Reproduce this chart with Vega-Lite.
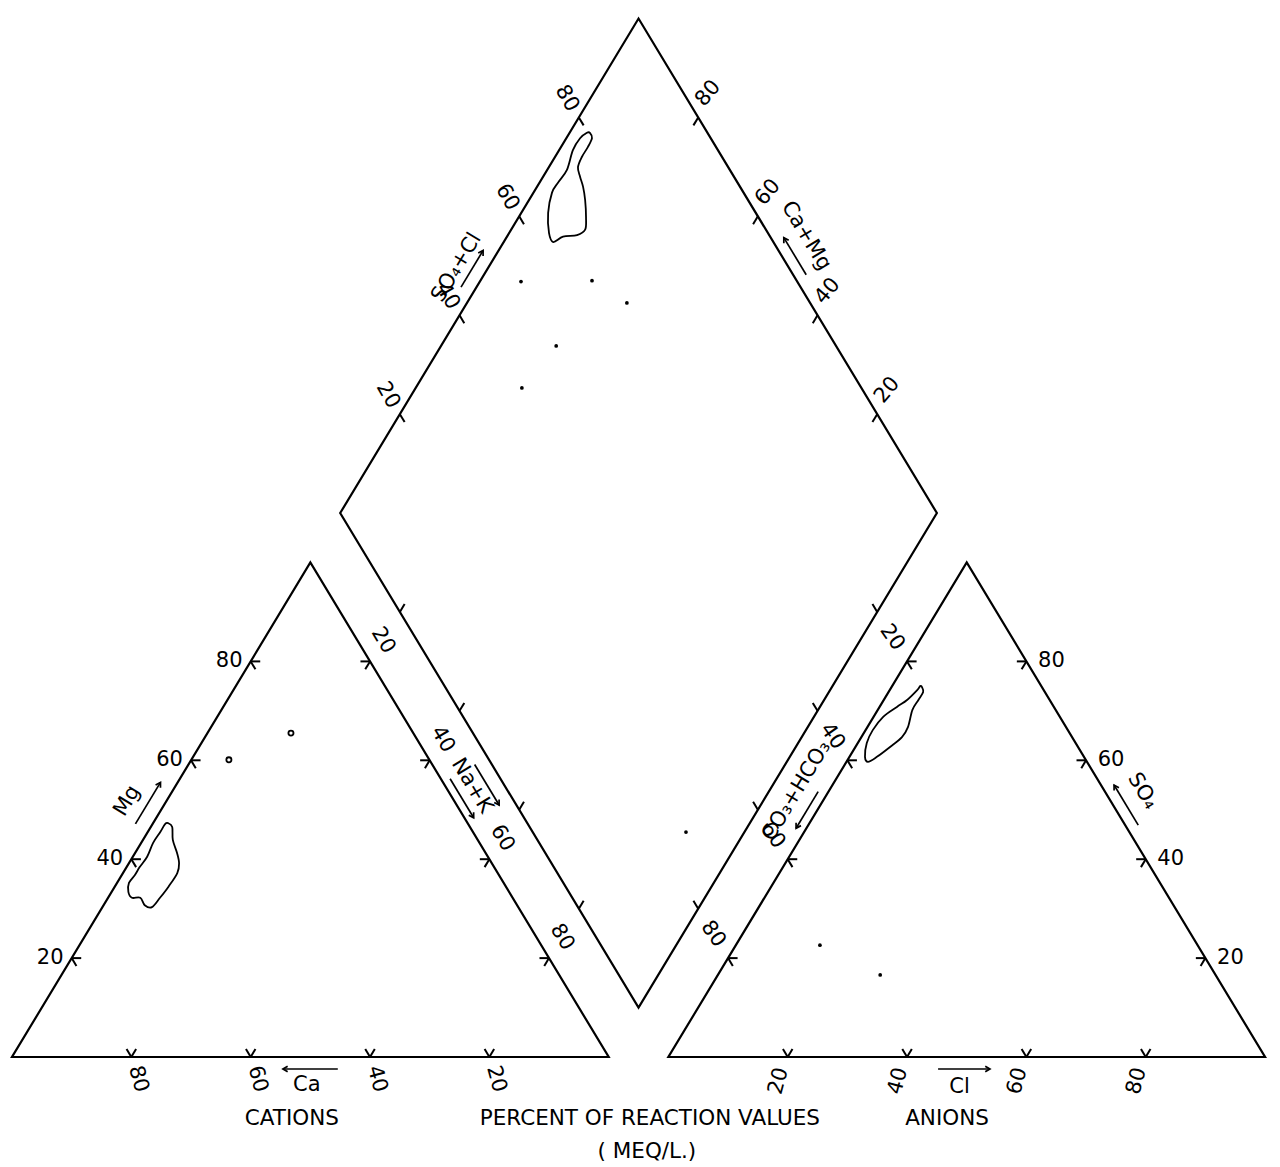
{
  "$schema": "https://vega.github.io/schema/vega-lite/v6.json",
  "description": "Piper trilinear diagram: cation and anion triangles with the central diamond, sample fields and points.",
  "width": 1280,
  "height": 1167,
  "padding": 0,
  "autosize": {"type": "none"},
  "background": "white",
  "config": {"view": {"stroke": null}, "font": "DejaVu Sans"},
  "data": {
    "values": [
      {"kind": "outline", "id": "cations", "plot": "cations", "i": 0, "Mg": 0, "NaK": 0},
      {"kind": "outline", "id": "cations", "plot": "cations", "i": 1, "Mg": 0, "NaK": 100},
      {"kind": "outline", "id": "cations", "plot": "cations", "i": 2, "Mg": 100, "NaK": 0},
      {"kind": "outline", "id": "anions", "plot": "anions", "i": 0, "SO4": 0, "Cl": 0},
      {"kind": "outline", "id": "anions", "plot": "anions", "i": 1, "SO4": 0, "Cl": 100},
      {"kind": "outline", "id": "anions", "plot": "anions", "i": 2, "SO4": 100, "Cl": 0},
      {"kind": "outline", "id": "diamond", "plot": "diamond", "i": 0, "NaK": 0, "SO4Cl": 0},
      {"kind": "outline", "id": "diamond", "plot": "diamond", "i": 1, "NaK": 0, "SO4Cl": 100},
      {"kind": "outline", "id": "diamond", "plot": "diamond", "i": 2, "NaK": 100, "SO4Cl": 100},
      {"kind": "outline", "id": "diamond", "plot": "diamond", "i": 3, "NaK": 100, "SO4Cl": 0},

      {"kind": "field", "id": "field-cations", "plot": "cations", "i": 0, "Mg": 47.3, "NaK": 2.5},
      {"kind": "field", "id": "field-cations", "plot": "cations", "i": 1, "Mg": 46.5, "NaK": 3.6},
      {"kind": "field", "id": "field-cations", "plot": "cations", "i": 2, "Mg": 43.9, "NaK": 5.0},
      {"kind": "field", "id": "field-cations", "plot": "cations", "i": 3, "Mg": 41.3, "NaK": 7.0},
      {"kind": "field", "id": "field-cations", "plot": "cations", "i": 4, "Mg": 39.2, "NaK": 8.4},
      {"kind": "field", "id": "field-cations", "plot": "cations", "i": 5, "Mg": 37.2, "NaK": 9.1},
      {"kind": "field", "id": "field-cations", "plot": "cations", "i": 6, "Mg": 34.4, "NaK": 9.0},
      {"kind": "field", "id": "field-cations", "plot": "cations", "i": 7, "Mg": 32.2, "NaK": 8.7},
      {"kind": "field", "id": "field-cations", "plot": "cations", "i": 8, "Mg": 30.3, "NaK": 8.3},
      {"kind": "field", "id": "field-cations", "plot": "cations", "i": 9, "Mg": 30.7, "NaK": 6.9},
      {"kind": "field", "id": "field-cations", "plot": "cations", "i": 10, "Mg": 32.2, "NaK": 5.4},
      {"kind": "field", "id": "field-cations", "plot": "cations", "i": 11, "Mg": 32.2, "NaK": 4.0},
      {"kind": "field", "id": "field-cations", "plot": "cations", "i": 12, "Mg": 33.4, "NaK": 2.8},
      {"kind": "field", "id": "field-cations", "plot": "cations", "i": 13, "Mg": 35.2, "NaK": 2.0},
      {"kind": "field", "id": "field-cations", "plot": "cations", "i": 14, "Mg": 36.8, "NaK": 2.2},
      {"kind": "field", "id": "field-cations", "plot": "cations", "i": 15, "Mg": 38.4, "NaK": 2.2},
      {"kind": "field", "id": "field-cations", "plot": "cations", "i": 16, "Mg": 40.5, "NaK": 2.4},
      {"kind": "field", "id": "field-cations", "plot": "cations", "i": 17, "Mg": 43.3, "NaK": 2.0},
      {"kind": "field", "id": "field-cations", "plot": "cations", "i": 18, "Mg": 45.5, "NaK": 2.1},
      {"kind": "field", "id": "field-cations", "plot": "cations", "i": 19, "Mg": 47.1, "NaK": 2.1},

      {"kind": "field", "id": "field-anions", "plot": "anions", "i": 0, "SO4": 74.8, "Cl": 5.1},
      {"kind": "field", "id": "field-anions", "plot": "anions", "i": 1, "SO4": 73.8, "Cl": 5.8},
      {"kind": "field", "id": "field-anions", "plot": "anions", "i": 2, "SO4": 72.2, "Cl": 5.8},
      {"kind": "field", "id": "field-anions", "plot": "anions", "i": 3, "SO4": 70.2, "Cl": 5.8},
      {"kind": "field", "id": "field-anions", "plot": "anions", "i": 4, "SO4": 66.7, "Cl": 6.8},
      {"kind": "field", "id": "field-anions", "plot": "anions", "i": 5, "SO4": 64.7, "Cl": 6.8},
      {"kind": "field", "id": "field-anions", "plot": "anions", "i": 6, "SO4": 62.7, "Cl": 5.8},
      {"kind": "field", "id": "field-anions", "plot": "anions", "i": 7, "SO4": 60.7, "Cl": 4.6},
      {"kind": "field", "id": "field-anions", "plot": "anions", "i": 8, "SO4": 59.7, "Cl": 3.6},
      {"kind": "field", "id": "field-anions", "plot": "anions", "i": 9, "SO4": 60.7, "Cl": 2.6},
      {"kind": "field", "id": "field-anions", "plot": "anions", "i": 10, "SO4": 63.5, "Cl": 1.5},
      {"kind": "field", "id": "field-anions", "plot": "anions", "i": 11, "SO4": 66.1, "Cl": 1.2},
      {"kind": "field", "id": "field-anions", "plot": "anions", "i": 12, "SO4": 68.8, "Cl": 1.6},
      {"kind": "field", "id": "field-anions", "plot": "anions", "i": 13, "SO4": 70.8, "Cl": 2.9},
      {"kind": "field", "id": "field-anions", "plot": "anions", "i": 14, "SO4": 72.2, "Cl": 3.9},
      {"kind": "field", "id": "field-anions", "plot": "anions", "i": 15, "SO4": 74.2, "Cl": 4.6},
      {"kind": "field", "id": "field-anions", "plot": "anions", "i": 16, "SO4": 75.0, "Cl": 4.7},

      {"kind": "field", "id": "field-diamond", "plot": "diamond", "i": 0, "NaK": 3.4, "SO4Cl": 80.3},
      {"kind": "field", "id": "field-diamond", "plot": "diamond", "i": 1, "NaK": 4.3, "SO4Cl": 80.1},
      {"kind": "field", "id": "field-diamond", "plot": "diamond", "i": 2, "NaK": 4.5, "SO4Cl": 78.5},
      {"kind": "field", "id": "field-diamond", "plot": "diamond", "i": 3, "NaK": 4.5, "SO4Cl": 76.5},
      {"kind": "field", "id": "field-diamond", "plot": "diamond", "i": 4, "NaK": 4.9, "SO4Cl": 74.8},
      {"kind": "field", "id": "field-diamond", "plot": "diamond", "i": 5, "NaK": 6.2, "SO4Cl": 74.2},
      {"kind": "field", "id": "field-diamond", "plot": "diamond", "i": 6, "NaK": 7.7, "SO4Cl": 73.7},
      {"kind": "field", "id": "field-diamond", "plot": "diamond", "i": 7, "NaK": 9.4, "SO4Cl": 72.7},
      {"kind": "field", "id": "field-diamond", "plot": "diamond", "i": 8, "NaK": 11.3, "SO4Cl": 71.1},
      {"kind": "field", "id": "field-diamond", "plot": "diamond", "i": 9, "NaK": 12.4, "SO4Cl": 69.7},
      {"kind": "field", "id": "field-diamond", "plot": "diamond", "i": 10, "NaK": 11.6, "SO4Cl": 67.8},
      {"kind": "field", "id": "field-diamond", "plot": "diamond", "i": 11, "NaK": 9.4, "SO4Cl": 65.3},
      {"kind": "field", "id": "field-diamond", "plot": "diamond", "i": 12, "NaK": 8.3, "SO4Cl": 63.1},
      {"kind": "field", "id": "field-diamond", "plot": "diamond", "i": 13, "NaK": 6.7, "SO4Cl": 63.3},
      {"kind": "field", "id": "field-diamond", "plot": "diamond", "i": 14, "NaK": 4.5, "SO4Cl": 65.2},
      {"kind": "field", "id": "field-diamond", "plot": "diamond", "i": 15, "NaK": 3.1, "SO4Cl": 67.9},
      {"kind": "field", "id": "field-diamond", "plot": "diamond", "i": 16, "NaK": 3.1, "SO4Cl": 69.9},
      {"kind": "field", "id": "field-diamond", "plot": "diamond", "i": 17, "NaK": 3.3, "SO4Cl": 72.7},
      {"kind": "field", "id": "field-diamond", "plot": "diamond", "i": 18, "NaK": 2.3, "SO4Cl": 75.7},
      {"kind": "field", "id": "field-diamond", "plot": "diamond", "i": 19, "NaK": 2.3, "SO4Cl": 78.1},
      {"kind": "field", "id": "field-diamond", "plot": "diamond", "i": 20, "NaK": 2.9, "SO4Cl": 79.8},

      {"kind": "sample", "plot": "diamond", "NaK": 6.9, "SO4Cl": 53.7},
      {"kind": "sample", "plot": "diamond", "NaK": 18.7, "SO4Cl": 65.7},
      {"kind": "sample", "plot": "diamond", "NaK": 26.8, "SO4Cl": 69.3},
      {"kind": "sample", "plot": "diamond", "NaK": 19.3, "SO4Cl": 53.1},
      {"kind": "sample", "plot": "diamond", "NaK": 17.8, "SO4Cl": 43.1},
      {"kind": "sample", "plot": "diamond", "NaK": 90.2, "SO4Cl": 25.7},
      {"kind": "sample", "plot": "anions", "SO4": 22.6, "Cl": 14.1},
      {"kind": "sample", "plot": "anions", "SO4": 16.6, "Cl": 27.2},
      {"kind": "sample", "plot": "cations", "Mg": 65.5, "NaK": 14.0},
      {"kind": "sample", "plot": "cations", "Mg": 60.1, "NaK": 6.3},

      {"kind": "tick", "axis": "Ca", "v": 20}, {"kind": "tick", "axis": "Ca", "v": 40},
      {"kind": "tick", "axis": "Ca", "v": 60}, {"kind": "tick", "axis": "Ca", "v": 80},
      {"kind": "tick", "axis": "Mg", "v": 20}, {"kind": "tick", "axis": "Mg", "v": 40},
      {"kind": "tick", "axis": "Mg", "v": 60}, {"kind": "tick", "axis": "Mg", "v": 80},
      {"kind": "tick", "axis": "NaK", "v": 20}, {"kind": "tick", "axis": "NaK", "v": 40},
      {"kind": "tick", "axis": "NaK", "v": 60}, {"kind": "tick", "axis": "NaK", "v": 80},
      {"kind": "tick", "axis": "Cl", "v": 20}, {"kind": "tick", "axis": "Cl", "v": 40},
      {"kind": "tick", "axis": "Cl", "v": 60}, {"kind": "tick", "axis": "Cl", "v": 80},
      {"kind": "tick", "axis": "SO4", "v": 20}, {"kind": "tick", "axis": "SO4", "v": 40},
      {"kind": "tick", "axis": "SO4", "v": 60}, {"kind": "tick", "axis": "SO4", "v": 80},
      {"kind": "tick", "axis": "HCO3", "v": 20}, {"kind": "tick", "axis": "HCO3", "v": 40},
      {"kind": "tick", "axis": "HCO3", "v": 60}, {"kind": "tick", "axis": "HCO3", "v": 80},
      {"kind": "tick", "axis": "SO4Cl", "v": 20}, {"kind": "tick", "axis": "SO4Cl", "v": 40},
      {"kind": "tick", "axis": "SO4Cl", "v": 60}, {"kind": "tick", "axis": "SO4Cl", "v": 80},
      {"kind": "tick", "axis": "CaMg", "v": 20}, {"kind": "tick", "axis": "CaMg", "v": 40},
      {"kind": "tick", "axis": "CaMg", "v": 60}, {"kind": "tick", "axis": "CaMg", "v": 80},
      {"kind": "tick", "axis": "NaKd", "v": 20}, {"kind": "tick", "axis": "NaKd", "v": 40},
      {"kind": "tick", "axis": "NaKd", "v": 60}, {"kind": "tick", "axis": "NaKd", "v": 80},
      {"kind": "tick", "axis": "HCO3d", "v": 20}, {"kind": "tick", "axis": "HCO3d", "v": 40},
      {"kind": "tick", "axis": "HCO3d", "v": 60}, {"kind": "tick", "axis": "HCO3d", "v": 80},

      {"kind": "title", "axis": "Mg", "v": 48.5, "text": "Mg"},
      {"kind": "title", "axis": "Ca", "v": 50.6, "text": "Ca"},
      {"kind": "title", "axis": "NaK", "v": 47.4, "text": "Na+K"},
      {"kind": "title", "axis": "SO4Cl", "v": 47.0, "text": "SO₄+Cl"},
      {"kind": "title", "axis": "CaMg", "v": 53.0, "text": "Ca+Mg"},
      {"kind": "title", "axis": "HCO3", "v": 48.9, "text": "CO₃+HCO₃"},
      {"kind": "title", "axis": "SO4", "v": 50.6, "text": "SO₄"},
      {"kind": "title", "axis": "Cl", "v": 48.8, "text": "Cl"},

      {"kind": "caption", "axis": "Ca", "v": 53.1, "line": 1, "text": "CATIONS"},
      {"kind": "caption", "axis": "Cl", "v": -3.1, "line": 1, "text": "PERCENT OF REACTION VALUES"},
      {"kind": "caption", "axis": "Cl", "v": -3.6, "line": 2, "text": "( MEQ/L.)"},
      {"kind": "caption", "axis": "Cl", "v": 46.7, "line": 1, "text": "ANIONS"},

      {"kind": "arrow", "id": "Mg", "axis": "Mg", "v": 45.7, "end": "tail"},
      {"kind": "arrow", "id": "Mg", "axis": "Mg", "v": 54.1, "end": "head"},
      {"kind": "arrow", "id": "Ca", "axis": "Ca", "v": 45.4, "end": "tail"},
      {"kind": "arrow", "id": "Ca", "axis": "Ca", "v": 54.6, "end": "head"},
      {"kind": "arrow", "id": "Cl", "axis": "Cl", "v": 45.2, "end": "tail"},
      {"kind": "arrow", "id": "Cl", "axis": "Cl", "v": 53.9, "end": "head"},
      {"kind": "arrow", "id": "SO4", "axis": "SO4", "v": 45.8, "end": "tail"},
      {"kind": "arrow", "id": "SO4", "axis": "SO4", "v": 53.9, "end": "head"},
      {"kind": "arrow", "id": "NaK", "axis": "NaK", "v": 44.5, "end": "tail"},
      {"kind": "arrow", "id": "NaK", "axis": "NaK", "v": 52.4, "end": "head"},
      {"kind": "arrow", "id": "NaKd", "axis": "NaKd", "v": 49.4, "end": "tail"},
      {"kind": "arrow", "id": "NaKd", "axis": "NaKd", "v": 57.6, "end": "head"},
      {"kind": "arrow", "id": "SO4Cl", "axis": "SO4Cl", "v": 44.4, "end": "tail"},
      {"kind": "arrow", "id": "SO4Cl", "axis": "SO4Cl", "v": 51.8, "end": "head"},
      {"kind": "arrow", "id": "CaMg", "axis": "CaMg", "v": 47.1, "end": "tail"},
      {"kind": "arrow", "id": "CaMg", "axis": "CaMg", "v": 54.6, "end": "head"},
      {"kind": "arrow", "id": "HCO3", "axis": "HCO3", "v": 47.2, "end": "tail"},
      {"kind": "arrow", "id": "HCO3", "axis": "HCO3", "v": 54.6, "end": "head"}
    ]
  },
  "transform": [
    {"calculate": "datum.axis === 'Ca' ? 100 : datum.axis === 'NaK' ? 50 : datum.axis === 'Cl' ? 110 : datum.axis === 'SO4' ? 210 : datum.axis === 'HCO3' ? 160 : datum.axis === 'SO4Cl' || datum.axis === 'NaKd' ? 55 : datum.axis === 'CaMg' || datum.axis === 'HCO3d' ? 155 : 0", "as": "ox"},
    {"calculate": "datum.axis === 'NaK' || datum.axis === 'HCO3' ? 86.6025 : indexof(['SO4Cl', 'CaMg', 'NaKd', 'HCO3d'], datum.axis) >= 0 ? 95.2628 : 0", "as": "oy"},
    {"calculate": "datum.axis === 'Ca' ? -1 : datum.axis === 'Cl' ? 1 : indexof(['Mg', 'NaK', 'SO4Cl', 'NaKd'], datum.axis) >= 0 ? 0.5 : -0.5", "as": "ax"},
    {"calculate": "datum.axis === 'Ca' || datum.axis === 'Cl' ? 0 : indexof(['Mg', 'SO4', 'SO4Cl', 'CaMg'], datum.axis) >= 0 ? 0.8660254 : -0.8660254", "as": "ay"},
    {"calculate": "datum.axis === 'Ca' || datum.axis === 'Cl' ? 0 : indexof(['Mg', 'HCO3', 'SO4Cl', 'NaKd'], datum.axis) >= 0 ? -0.8660254 : 0.8660254", "as": "nx"},
    {"calculate": "datum.axis === 'Ca' || datum.axis === 'Cl' ? -1 : datum.axis === 'NaKd' || datum.axis === 'HCO3d' ? -0.5 : 0.5", "as": "ny"},
    {"calculate": "datum.kind === 'arrow' ? (datum.axis === 'NaK' ? 1.35 : datum.axis === 'NaKd' || datum.axis === 'Mg' ? 2.5 : datum.axis === 'SO4Cl' ? 2.25 : datum.axis === 'HCO3' ? 1.5 : datum.axis === 'Ca' || datum.axis === 'Cl' ? 2.1 : 1.9) : datum.kind === 'title' ? (datum.axis === 'NaK' ? 3.9 : datum.axis === 'Mg' ? 5.7 : datum.axis === 'SO4' ? 5.5 : datum.axis === 'SO4Cl' ? 4.6 : datum.axis === 'CaMg' ? 5.3 : datum.axis === 'HCO3' ? 4.7 : datum.axis === 'Cl' ? 5.2 : 4.9) : datum.kind === 'caption' ? (datum.line === 2 ? 16.6 : 10.8) : 0", "as": "off"},
    {"calculate": "isValid(datum.axis) ? datum.ox + datum.ax * datum.v + datum.off * datum.nx : datum.plot === 'cations' ? datum.NaK + datum.Mg / 2 : datum.plot === 'anions' ? 110 + datum.Cl + datum.SO4 / 2 : 55 + (datum.NaK + datum.SO4Cl) / 2", "as": "X"},
    {"calculate": "isValid(datum.axis) ? datum.oy + datum.ay * datum.v + datum.off * datum.ny : datum.plot === 'cations' ? 0.8660254 * datum.Mg : datum.plot === 'anions' ? 0.8660254 * datum.SO4 : 95.2628 + 0.8660254 * (datum.SO4Cl - datum.NaK)", "as": "Y"},
    {"calculate": "atan2(-datum.ay * 5.71, datum.ax * 5.967) * 180 / PI", "as": "dir"}
  ],
  "encoding": {
    "x": {"field": "X", "type": "quantitative", "scale": {"domain": [-2.0111, 212.502], "nice": false, "zero": false}, "axis": null},
    "y": {"field": "Y", "type": "quantitative", "scale": {"domain": [-19.264, 185.114], "nice": false, "zero": false}, "axis": null}
  },
  "layer": [
    {
      "transform": [{"filter": "datum.kind === 'outline'"}],
      "mark": {"type": "line", "interpolate": "linear-closed", "stroke": "black", "strokeWidth": 2.2, "strokeJoin": "miter"},
      "encoding": {"detail": {"field": "id"}, "order": {"field": "i", "type": "quantitative"}}
    },
    {
      "transform": [{"filter": "datum.kind === 'field'"}],
      "mark": {"type": "line", "interpolate": "cardinal-closed", "stroke": "black", "strokeWidth": 1.8},
      "encoding": {"detail": {"field": "id"}, "order": {"field": "i", "type": "quantitative"}}
    },
    {
      "transform": [{"filter": "datum.kind === 'sample' && datum.plot !== 'cations'"}],
      "mark": {"type": "point", "shape": "circle", "filled": true, "color": "black", "size": 14, "opacity": 1}
    },
    {
      "transform": [{"filter": "datum.kind === 'sample' && datum.plot === 'cations'"}],
      "mark": {"type": "point", "shape": "circle", "filled": false, "stroke": "black", "strokeWidth": 1.8, "size": 26, "opacity": 1}
    },
    {
      "transform": [
        {"filter": "datum.kind === 'tick'"},
        {"calculate": "datum.axis === 'Ca' || datum.axis === 'Cl' || datum.axis === 'NaKd' ? 60 : datum.axis === 'Mg' || datum.axis === 'HCO3' ? 0 : datum.axis === 'NaK' || datum.axis === 'SO4' ? 180 : datum.axis === 'SO4Cl' ? 300 : datum.axis === 'CaMg' ? 240 : 120", "as": "arm"},
        {"calculate": "datum.X + 1.6 * cos(datum.arm * PI / 180)", "as": "X2"},
        {"calculate": "datum.Y + 1.6 * sin(datum.arm * PI / 180)", "as": "Y2"}
      ],
      "mark": {"type": "rule", "stroke": "black", "strokeWidth": 2},
      "encoding": {"x2": {"field": "X2"}, "y2": {"field": "Y2"}}
    },
    {
      "transform": [
        {"filter": "datum.kind === 'tick' && indexof(['Ca', 'Mg', 'NaK', 'Cl', 'SO4', 'HCO3'], datum.axis) >= 0"},
        {"calculate": "datum.axis === 'Ca' || datum.axis === 'Cl' ? 120 : datum.axis === 'Mg' || datum.axis === 'HCO3' ? 300 : 240", "as": "arm"},
        {"calculate": "datum.X + 1.6 * cos(datum.arm * PI / 180)", "as": "X2"},
        {"calculate": "datum.Y + 1.6 * sin(datum.arm * PI / 180)", "as": "Y2"}
      ],
      "mark": {"type": "rule", "stroke": "black", "strokeWidth": 2},
      "encoding": {"x2": {"field": "X2"}, "y2": {"field": "Y2"}}
    },
    {
      "transform": [
        {"filter": "datum.kind === 'tick' && datum.axis !== 'NaKd' && datum.axis !== 'HCO3d'"},
        {"calculate": "datum.X + (datum.axis === 'Ca' ? 1.17 : datum.axis === 'Mg' ? -3.6 : datum.axis === 'NaK' ? 2.18 : datum.axis === 'Cl' ? -1.51 : datum.axis === 'SO4' ? 4.19 : datum.axis === 'HCO3' ? -2.51 : datum.axis === 'SO4Cl' ? -2.0 : 1.68)", "as": "LX"},
        {"calculate": "datum.Y + (datum.axis === 'Ca' ? -3.85 : datum.axis === 'Mg' ? 0 : datum.axis === 'NaK' ? 3.68 : datum.axis === 'Cl' ? -4.2 : datum.axis === 'SO4' ? 0 : datum.axis === 'HCO3' ? 4.2 : datum.axis === 'SO4Cl' ? 3.33 : 4.2)", "as": "LY"},
        {"calculate": "datum.axis === 'Ca' ? 75 : datum.axis === 'NaK' ? 59 : datum.axis === 'Cl' ? -75 : datum.axis === 'HCO3' ? 55 : datum.axis === 'SO4Cl' ? 60 : datum.axis === 'CaMg' ? -50 : 0", "as": "la"}
      ],
      "mark": {"type": "text", "fontSize": 21, "align": "center", "baseline": "middle", "color": "black"},
      "encoding": {
        "x": {"field": "LX", "type": "quantitative"},
        "y": {"field": "LY", "type": "quantitative"},
        "text": {"field": "v", "type": "quantitative"},
        "angle": {"field": "la", "type": "quantitative", "scale": null}
      }
    },
    {
      "transform": [
        {"filter": "datum.kind === 'title'"},
        {"calculate": "datum.dir > 90 ? datum.dir - 180 : datum.dir < -90 ? datum.dir + 180 : datum.dir", "as": "ta"}
      ],
      "mark": {"type": "text", "fontSize": 21, "align": "center", "baseline": "middle", "color": "black"},
      "encoding": {
        "text": {"field": "text"},
        "angle": {"field": "ta", "type": "quantitative", "scale": null}
      }
    },
    {
      "transform": [{"filter": "datum.kind === 'caption'"}],
      "mark": {"type": "text", "fontSize": 21.5, "align": "center", "baseline": "middle", "color": "black"},
      "encoding": {"text": {"field": "text"}}
    },
    {
      "transform": [{"filter": "datum.kind === 'arrow'"}],
      "mark": {"type": "line", "stroke": "black", "strokeWidth": 1.7},
      "encoding": {"detail": {"field": "id"}, "order": {"field": "v", "type": "quantitative"}}
    },
    {
      "transform": [{"filter": "datum.kind === 'arrow' && datum.end === 'head'"}],
      "mark": {"type": "point", "shape": "M-1,-0.6L0,0L-1,0.6", "filled": false, "stroke": "black", "strokeWidth": 1.7, "size": 90, "opacity": 1},
      "encoding": {"angle": {"field": "dir", "type": "quantitative", "scale": null}}
    }
  ]
}
